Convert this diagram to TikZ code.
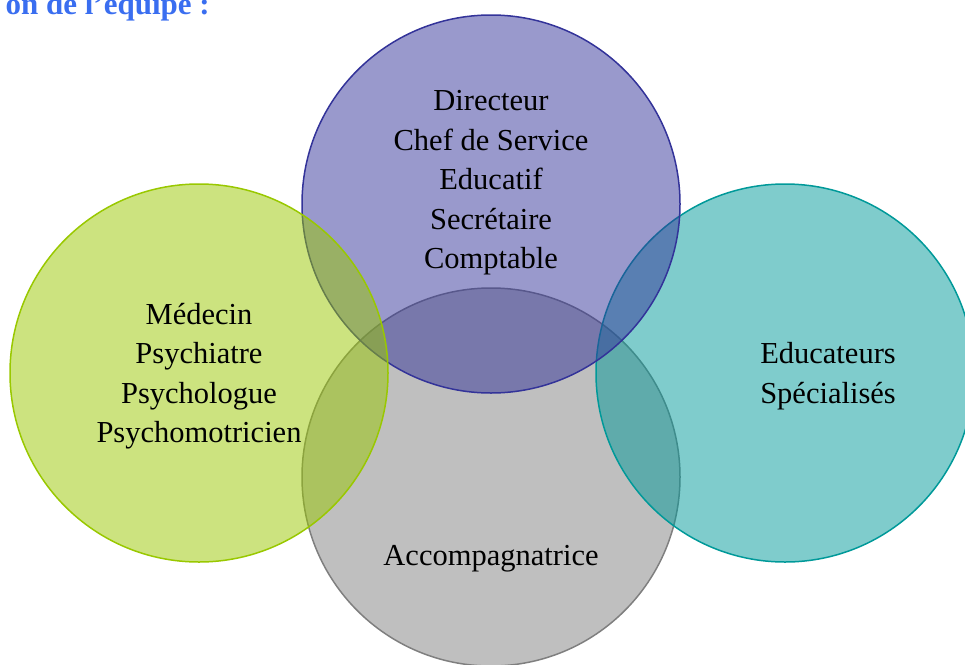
\documentclass[tikz,border=0pt]{standalone}
\usepackage{fontspec}
\setmainfont{Liberation Serif}
\definecolor{dirblue}{RGB}{51,51,153}
\definecolor{medgreen}{RGB}{153,200,0}
\definecolor{eduteal}{RGB}{0,153,153}
\definecolor{accgray}{RGB}{127,127,127}
\definecolor{titleblue}{RGB}{58,110,240}
\tikzset{
    venn/.style={circle, minimum size=378pt, inner sep=0pt, line width=1.5pt, fill opacity=0.5},
    role/.style={align=center, inner sep=0pt, font=\fontsize{30.5}{39.5}\selectfont, text=black}
}

\begin{document}
\begin{tikzpicture}[x=1pt,y=-1pt]
    \clip (0,0) rectangle (965,664);

    \node[venn, draw=accgray, fill=accgray] (cAcc) at (491,477) {};
    \node[venn, draw=eduteal, fill=eduteal] (cEdu) at (785,373) {};
    \node[venn, draw=dirblue, fill=dirblue] (cDir) at (491,204) {};
    \node[venn, draw=medgreen, fill=medgreen] (cMed) at (199,373) {};

    \node[role] (tDir) at (491,183) {Directeur\\Chef de Service\\Educatif\\Secrétaire\\Comptable};
    \node[role] (tMed) at (199,376) {Médecin\\Psychiatre\\Psychologue\\Psychomotricien};
    \node[role] (tEdu) at (828,376) {Educateurs\\Spécialisés};
    \node[role] (tAcc) at (491,559) {Accompagnatrice};

    \node[anchor=base east, inner sep=0pt, text=titleblue,
          font=\fontsize{31}{33}\selectfont\bfseries] (title) at (210,14) {on de l’équipe :};
\end{tikzpicture}
\end{document}
